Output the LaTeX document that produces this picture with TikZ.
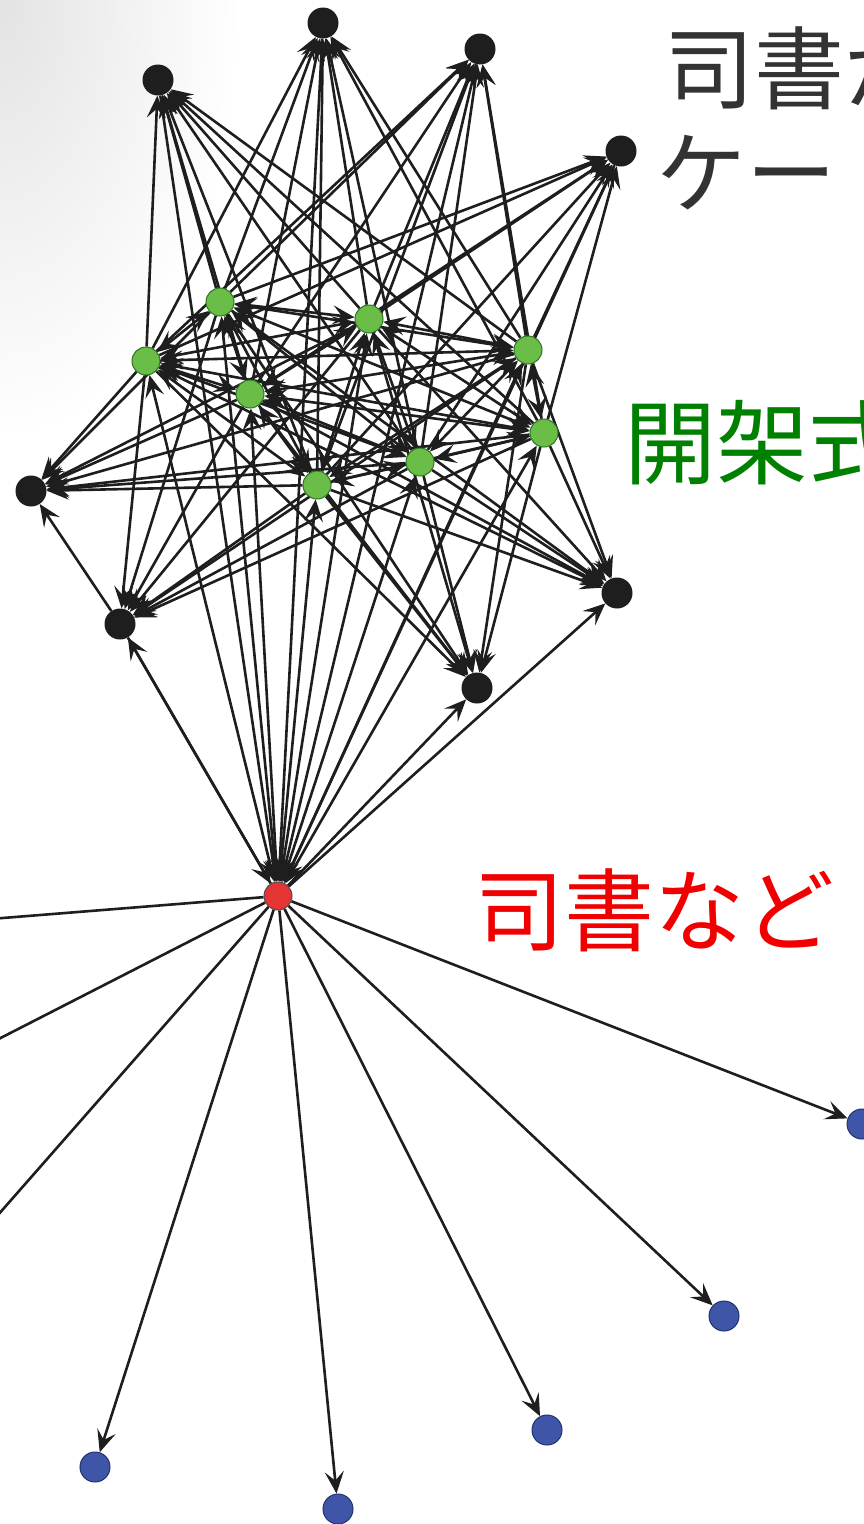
\documentclass[tikz,border=0pt]{standalone}
\usepackage{fontspec}
\newfontfamily\cjk{Noto Sans CJK JP}
\usetikzlibrary{arrows.meta}
\definecolor{nodeblack}{RGB}{30,30,30}
\definecolor{greenfill}{RGB}{106,190,72}
\definecolor{greenline}{RGB}{45,115,35}
\definecolor{redfill}{RGB}{228,52,52}
\definecolor{bluefill}{RGB}{62,85,168}
\definecolor{blueline}{RGB}{35,50,110}
\definecolor{titlegray}{RGB}{51,51,51}
\definecolor{labelgreen}{RGB}{0,128,0}
\definecolor{labelred}{RGB}{240,0,0}
\pgfdeclarelayer{back}
\pgfdeclarelayer{edges}
\pgfsetlayers{back,edges,main}
\begin{document}
\begin{tikzpicture}[x=1pt,y=-1pt,
  edge/.style={line width=2.6pt, draw=nodeblack, -{Stealth[length=22pt,width=19pt,inset=9pt]}},
  biedge/.style={line width=2.6pt, draw=nodeblack, {Stealth[length=22pt,width=19pt,inset=9pt]}-{Stealth[length=22pt,width=19pt,inset=9pt]}},
  vtx/.style={circle, minimum size=31pt, inner sep=0pt},
  blk/.style={vtx, fill=nodeblack},
  grn/.style={vtx, minimum size=28pt, fill=greenfill, draw=greenline, line width=1pt},
  rd/.style={vtx, minimum size=28pt, fill=redfill, draw=black!70, line width=1pt},
  blu/.style={vtx, minimum size=30pt, fill=bluefill, draw=blueline, line width=1pt},
  lbl/.style={anchor=west, inner sep=0pt, font=\cjk\fontsize{90}{90}\selectfont}
]
\useasboundingbox (0,0) rectangle (864,1524);
\clip (0,0) rectangle (864,1524);
\begin{pgfonlayer}{back}
  \fill[white] (0,0) rectangle (864,1524);
  \shade[inner color=black!11, outer color=white] (0,0) ellipse (240 and 440);
\end{pgfonlayer}

% black (outer) nodes
\node[blk] (b1) at (158,80) {};
\node[blk] (b2) at (323,23) {};
\node[blk] (b3) at (480,49) {};
\node[blk] (b4) at (621,151) {};
\node[blk] (b5) at (31,491) {};
\node[blk] (b6) at (120,624) {};
\node[blk] (b7) at (617,593) {};
\node[blk] (b8) at (477,688) {};
% green nodes
\node[grn] (g1) at (220,302) {};
\node[grn] (g2) at (146,361) {};
\node[grn] (g3) at (369,319) {};
\node[grn] (g4) at (528,350) {};
\node[grn] (g5) at (250,394) {};
\node[grn] (g6) at (544,433) {};
\node[grn] (g7) at (420,462) {};
\node[grn] (g8) at (317,485) {};
% red node
\node[rd] (r) at (278,896) {};
% blue nodes
\node[blu] (u1) at (862,1124) {};
\node[blu] (u2) at (724,1316) {};
\node[blu] (u3) at (547,1430) {};
\node[blu] (u4) at (95,1467) {};
\node[blu] (u5) at (338,1509) {};
\coordinate (o1) at (-60,923);
\coordinate (o2) at (-60,1069);
\coordinate (o3) at (-60,1281);

\begin{pgfonlayer}{edges}
  % green -> every black node
  \foreach \i in {1,...,8} {
    \foreach \k in {1,...,8} {
      \draw[edge] (g\i) -- (b\k);
    }
  }
  % green <-> green
  \foreach \i in {1,...,7} {
    \pgfmathtruncatemacro{\j}{\i+1}
    \foreach \k in {\j,...,8} {
      \draw[biedge] (g\i) -- (g\k);
    }
  }
  % between green and the red node
  \foreach \i in {1,...,8} {\draw[biedge] (g\i) -- (r);}
  \foreach \k in {1,2,3,4,6} {\draw[edge] (b\k) -- (r);}
  % out of the red node
  \draw[edge] (r) -- (b6);
  \draw[edge] (r) -- (b7);
  \draw[edge] (r) -- (b8);
  \draw[edge] (b6) -- (b5);
  \foreach \k in {1,...,5} {\draw[edge] (r) -- (u\k);}
  \foreach \k in {1,2,3} {\draw[edge] (r) -- (o\k);}
\end{pgfonlayer}

% labels
\node[lbl, text=titlegray] (t1) at (664,68) {司書が};
\node[lbl, text=titlegray] (t2) at (656,173) {ケー};
\node[lbl, text=labelgreen, font=\cjk\fontsize{92}{92}\selectfont] (t3) at (624,443) {開架式};
\node[lbl, text=labelred] (t4) at (474,910) {司書など};
\end{tikzpicture}
\end{document}
